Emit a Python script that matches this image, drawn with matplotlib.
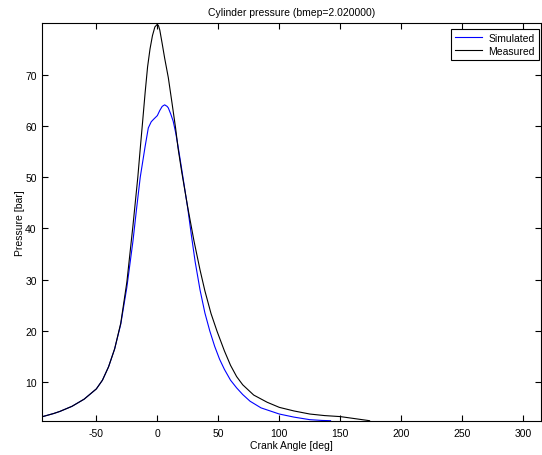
import matplotlib
matplotlib.use("Agg")
import matplotlib.pyplot as plt

# Measured (black)
meas_angle = [-94, -85, -80, -70, -60, -50, -45, -40, -35, -30, -25, -20, -16, -14, -12,
              -10, -8, -6, -4, -2, 0, 1, 2, 4, 6, 9, 12, 15, 17, 20, 25, 30, 35, 39,
              44, 49, 55, 60, 65, 70, 79, 90, 100, 112, 125, 137, 150, 162, 174]
meas_p = [3.3, 3.9, 4.3, 5.3, 6.7, 8.7, 10.4, 13.0, 16.5, 21.5, 29.5, 40.5, 50.0, 55.6, 61.0,
          66.5, 71.5, 75.0, 77.6, 79.3, 79.8, 79.5, 78.7, 76.0, 73.2, 69.4, 64.5, 59.5, 55.6, 51.0,
          44.0, 37.6, 31.9, 27.8, 23.4, 19.9, 16.1, 13.3, 11.1, 9.5, 7.5, 6.1, 5.1, 4.4, 3.8,
          3.5, 3.3, 2.9, 2.5]

# Simulated (blue)
sim_angle = [-94, -85, -80, -70, -60, -50, -45, -40, -35, -30, -25, -20, -17, -14, -10,
             -7.4, -5, -3, 0, 2, 4, 6, 8, 9, 11, 13, 15, 17, 20, 25, 28, 31, 35, 39, 43,
             47, 51, 55, 60, 65, 70, 76, 85, 100, 112, 125, 135, 142]
sim_p = [3.3, 3.9, 4.3, 5.3, 6.7, 8.7, 10.4, 13.0, 16.5, 21.3, 28.5, 37.5, 43.9, 50.0, 56.0,
         59.6, 60.8, 61.3, 62.0, 63.0, 63.8, 64.1, 63.8, 63.5, 62.3, 60.9, 58.7, 56.0, 51.5, 43.8,
         38.5, 33.5, 28.0, 23.5, 20.0, 17.0, 14.5, 12.5, 10.4, 8.9, 7.6, 6.3, 5.0, 3.8, 3.2,
         2.7, 2.55, 2.5]

xticks = [-50, 0, 50, 100, 150, 200, 250, 300]
yticks = [10, 20, 30, 40, 50, 60, 70]

plt.rcParams['font.family'] = ['Liberation Sans', 'DejaVu Sans']
plt.rcParams['axes.unicode_minus'] = False

fig = plt.figure(figsize=(5.42, 4.56), dpi=100)
ax = fig.add_axes([42.3 / 542, (456 - 421.7) / 456, (541 - 42.3) / 542, (421.7 - 24.3) / 456])

ax.plot(sim_angle, sim_p, color='#0000ff', lw=0.8, label='Simulated')
ax.plot(meas_angle, meas_p, color='black', lw=0.8, label='Measured')

ax.set_xlim(-94.3, 314.5)
ax.set_ylim(2.5, 80)
ax.set_xticks(xticks)
ax.set_yticks(yticks)
ax.tick_params(direction='in', length=4, width=0.8, top=True, right=True,
               labelsize=7.5, pad=5)
ax.tick_params(axis='y', pad=4)
for s in ax.spines.values():
    s.set_linewidth(0.8)

ax.set_title('Cylinder pressure (bmep=2.020000)', fontsize=7.5, pad=6)
ax.set_xlabel('Crank Angle [deg]', fontsize=7.5, labelpad=2)
ax.set_ylabel('Pressure [bar]', fontsize=7.5, labelpad=0)

leg = ax.legend(loc='upper right', bbox_to_anchor=(0.995, 0.985), borderaxespad=0,
                fontsize=7.5, fancybox=False, framealpha=1, edgecolor='black',
                handlelength=2.6, handletextpad=0.6, borderpad=0.35, labelspacing=0.3)
leg.get_frame().set_linewidth(0.8)

fig.savefig('out.png', dpi=100)
